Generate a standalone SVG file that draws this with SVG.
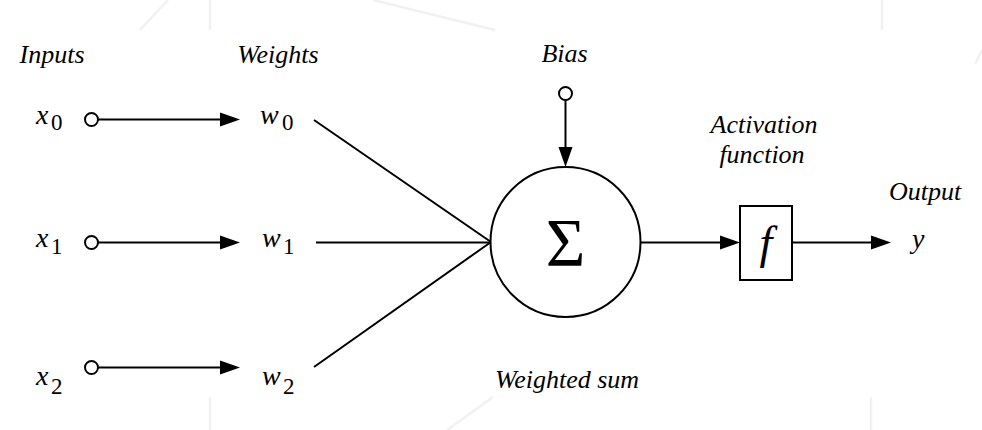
<svg xmlns="http://www.w3.org/2000/svg" width="982" height="430" viewBox="0 0 982 430">
  <rect x="0" y="0" width="982" height="430" fill="#fff"/>
  <g id="watermark" stroke="#f1f1f1" stroke-width="2.5" fill="none">
    <line x1="140" y1="30" x2="168" y2="0"/>
    <line x1="210" y1="0" x2="210" y2="30"/>
    <line x1="373" y1="0" x2="495" y2="30"/>
    <line x1="882" y1="0" x2="882" y2="30"/>
    <line x1="210" y1="397" x2="210" y2="430"/>
    <line x1="447" y1="430" x2="493" y2="397"/>
    <line x1="871" y1="397" x2="871" y2="430"/>
    <line x1="982" y1="50" x2="975" y2="64"/>
  </g>
  <g id="connectors">
    <g stroke="#000" stroke-width="2" fill="none">
      <line x1="98" y1="119.5" x2="222" y2="119.5"/>
      <line x1="98" y1="242.5" x2="222" y2="242.5"/>
      <line x1="98" y1="367.5" x2="222" y2="367.5"/>
      <line x1="314" y1="120" x2="491" y2="242"/>
      <line x1="316" y1="242.5" x2="491" y2="242.5"/>
      <line x1="314" y1="367" x2="491" y2="242"/>
      <line x1="565.5" y1="100" x2="565.5" y2="149"/>
      <line x1="640.5" y1="242.5" x2="722" y2="242.5"/>
      <line x1="792" y1="242.5" x2="873" y2="242.5"/>
    </g>
    <g fill="#000">
      <polygon points="220,112.5 240,119.5 220,126.5"/>
      <polygon points="220,235.5 240,242.5 220,249.5"/>
      <polygon points="220,360.5 240,367.5 220,374.5"/>
      <polygon points="558.5,147 565.5,167 572.5,147"/>
      <polygon points="720,235.5 740,242.5 720,249.5"/>
      <polygon points="871,235.5 891,242.5 871,249.5"/>
    </g>
  </g>
  <g id="input-x0">
    <circle cx="91.5" cy="119.5" r="6.5" fill="#fff" stroke="#000" stroke-width="2"/>
    <text font-family="Liberation Serif" font-style="italic" font-size="28" x="36" y="124">x</text>
    <text font-family="Liberation Serif" font-size="23" x="51" y="129.5">0</text>
  </g>
  <g id="input-x1">
    <circle cx="91.5" cy="242.5" r="6.5" fill="#fff" stroke="#000" stroke-width="2"/>
    <text font-family="Liberation Serif" font-style="italic" font-size="28" x="36" y="247">x</text>
    <text font-family="Liberation Serif" font-size="23" x="51" y="254">1</text>
  </g>
  <g id="input-x2">
    <circle cx="91.5" cy="367.5" r="6.5" fill="#fff" stroke="#000" stroke-width="2"/>
    <text font-family="Liberation Serif" font-style="italic" font-size="28" x="36" y="385">x</text>
    <text font-family="Liberation Serif" font-size="23" x="51" y="393.5">2</text>
  </g>
  <g id="weight-w0">
    <text font-family="Liberation Serif" font-style="italic" font-size="28" x="260" y="124">w</text>
    <text font-family="Liberation Serif" font-size="23" x="282" y="129.5">0</text>
  </g>
  <g id="weight-w1">
    <text font-family="Liberation Serif" font-style="italic" font-size="28" x="262" y="247">w</text>
    <text font-family="Liberation Serif" font-size="23" x="283" y="254">1</text>
  </g>
  <g id="weight-w2">
    <text font-family="Liberation Serif" font-style="italic" font-size="28" x="262" y="385">w</text>
    <text font-family="Liberation Serif" font-size="23" x="283" y="393.5">2</text>
  </g>
  <g id="bias">
    <circle cx="565.5" cy="93.5" r="6.5" fill="#fff" stroke="#000" stroke-width="2"/>
    <text font-family="Liberation Serif" font-style="italic" font-size="26" x="564.5" y="62" text-anchor="middle">Bias</text>
  </g>
  <g id="sum">
    <circle cx="565.5" cy="242" r="75" fill="#fff" stroke="#000" stroke-width="2"/>
    <text font-family="Liberation Serif" font-size="68" x="565.5" y="265" text-anchor="middle">Σ</text>
    <text font-family="Liberation Serif" font-style="italic" font-size="26" x="567" y="388" text-anchor="middle">Weighted sum</text>
  </g>
  <g id="activation">
    <rect x="740" y="206" width="52" height="74" fill="#fff" stroke="#000" stroke-width="2"/>
    <text font-family="Liberation Serif" font-style="italic" font-size="46" x="766" y="258" text-anchor="middle">f</text>
    <text font-family="Liberation Serif" font-style="italic" font-size="26" x="764" y="133" text-anchor="middle">Activation</text>
    <text font-family="Liberation Serif" font-style="italic" font-size="26" x="762" y="163" text-anchor="middle">function</text>
  </g>
  <g id="output">
    <text font-family="Liberation Serif" font-style="italic" font-size="28" x="912" y="248">y</text>
    <text font-family="Liberation Serif" font-style="italic" font-size="26" x="925" y="199.5" text-anchor="middle">Output</text>
  </g>
  <g id="headers">
    <text font-family="Liberation Serif" font-style="italic" font-size="26" x="52" y="63" text-anchor="middle">Inputs</text>
    <text font-family="Liberation Serif" font-style="italic" font-size="26" x="278" y="63" text-anchor="middle">Weights</text>
  </g>
</svg>
